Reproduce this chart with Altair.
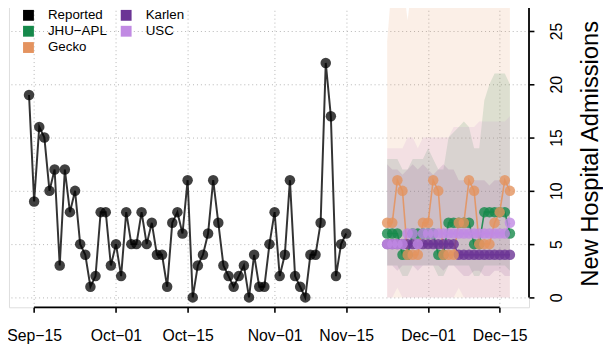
import altair as alt
import pandas as pd

FONT = "Liberation Sans"

# ---------------- data ----------------
reported_start = "2020-09-14"
reported = [19, 9, 16, 15, 10, 12, 3, 12, 8, 10, 5, 4, 1, 2, 8, 8, 3,
            5, 2, 8, 5, 5, 8, 5, 7, 4, 4, 1, 7, 8, 6, 11, 0, 3, 4, 6, 11, 7, 3, 2, 1, 2, 3, 0, 4, 1, 1, 5,
            8, 2, 4, 11, 2, 1, 0, 4, 4, 7, 22, 17, 2, 5, 6]

forecast_start = "2020-11-23"
models = ["JHU−APL", "Karlen", "USC", "Gecko"]  # drawing order
jhu_point = [6, 6, 6, 4, 4, 6, 6, 6, 6, 6, 4, 4, 7, 7, 7, 7, 7, 5, 5, 8, 8, 8, 8, 8, 6]
jhu_lower = [3, 3, 3, 2, 2, 3, 3, 3, 3, 3, 2, 2, 3, 3, 3, 3, 3, 2, 2, 3, 3, 3, 3, 3, 2.5]
jhu_upper = [13, 13, 13, 12, 12, 13, 13, 13, 14, 13, 12, 12, 15, 15.5, 16, 16.5, 16, 14, 14, 18.5, 20, 21, 21, 21, 20]
gecko_point = [7, 7, 11, 10, 4, 4, 4, 7, 7, 11, 10, 4, 4, 4, 7, 7, 11, 10, 5, 5, 5, 7, 8, 11, 10]
gecko_lower = [0] * 25
gecko_upper = [24, 30, 30, 30, 26, 30, 30, 30, 30, 30, 30, 30, 30, 30, 30, 30, 30, 30, 30, 30, 30, 30, 30, 30, 30]
karlen_point = [5] * 14 + [4] * 11
karlen_lower = [3, 3, 2.5, 3, 3, 3, 2.5, 3, 3, 3, 3, 2.5, 3, 3, 2.5, 2, 2, 2.5, 2.5, 2, 2, 2.5, 2.5, 2, 2]
karlen_upper = [12.5, 12, 12, 11.5, 12, 12.5, 12, 12.5, 12, 11.5, 12, 12.5, 12, 12, 11, 11, 10.5, 11, 11, 11, 10.5, 11, 11, 11, 11]
usc_point = [5, 5, 5, 5, 6, 6, 5] + [6] * 17 + [7]
usc_lower = [0, 0, 0.9, 0, 0, 0, 0, 0, 0, 0, 0, 0, 0, 0, 0.9, 0, 0, 0, 0, 0, 0, 0, 0, 0, 0]
usc_upper = [14, 14, 14, 14, 15, 15, 14, 15, 15, 15, 15, 15, 15, 16, 16, 16, 16, 16, 16.5, 16.5, 16.5, 16.5, 16.5, 16.5, 17]

legend_order = ["Reported", "JHU−APL", "Gecko", "Karlen", "USC"]
legend_colors = ["#000000", "#16894b", "#e4935f", "#6b3595", "#c18ae3"]

x_ticks = ["2020-09-15", "2020-10-01", "2020-10-15", "2020-11-01", "2020-11-15", "2020-12-01", "2020-12-15"]
y_ticks = [0, 5, 10, 15, 20, 25]
x_domain = ["2020-09-10T02:00:00Z", "2020-12-20T17:30:00Z"]
y_domain = [-0.926, 27.685]

# ---------------- frames ----------------
rep_df = pd.DataFrame({
    "date": pd.date_range(reported_start, periods=len(reported)).strftime("%Y-%m-%d"),
    "value": reported,
    "model": "Reported",
})

fc_dates = pd.date_range(forecast_start, periods=25).strftime("%Y-%m-%d")
series = {
    "JHU−APL": (jhu_point, jhu_lower, jhu_upper),
    "Karlen": (karlen_point, karlen_lower, karlen_upper),
    "USC": (usc_point, usc_lower, usc_upper),
    "Gecko": (gecko_point, gecko_lower, gecko_upper),
}
rows = []
for i, m in enumerate(models):
    p, lo, hi = series[m]
    for d, a, b, c in zip(fc_dates, p, lo, hi):
        rows.append({"date": d, "value": a, "lower": b, "upper": c, "model": m, "order": i})
fc_df = pd.DataFrame(rows)


def dt(s):
    t = pd.Timestamp(s)
    return alt.DateTime(year=t.year, month=t.month, date=t.day, hours=t.hour, minutes=t.minute, utc=True)


x_scale = alt.Scale(type="utc", domain=[dt(x_domain[0]), dt(x_domain[1])])
y_scale = alt.Scale(domain=y_domain, nice=False, zero=False)
color_scale = alt.Scale(domain=legend_order, range=legend_colors)

x_axis = alt.Axis(values=[dt(v) for v in x_ticks],
                  labelExpr="utcFormat(datum.value, '%b−%d')",
                  grid=True, gridDash=[1, 3], gridColor="#b5b5b5", gridWidth=1,
                  domain=False, tickSize=5, tickWidth=1.6, tickColor="black",
                  labelFontSize=16, labelFont=FONT, labelColor="black", labelPadding=16,
                  labelFlush=False, labelOverlap=False, title=None)
y_axis = alt.Axis(values=y_ticks, orient="right",
                  grid=True, gridDash=[1, 3], gridColor="#b5b5b5", gridWidth=1,
                  domain=False, tickSize=5, tickWidth=1.6, tickColor="black",
                  labelAngle=270, labelAlign="center", labelBaseline="top",
                  labelFontSize=16, labelFont=FONT, labelColor="black", labelPadding=15,
                  title="New Hospital Admissions", titleFontSize=24, titleFont=FONT,
                  titleFontWeight="normal", titleColor="black", titleAngle=270,
                  titleAlign="center", titleBaseline="middle", titleX=62, titleY=153)


def X(field="date"):
    return alt.X(f"{field}:T", scale=x_scale, axis=x_axis)


def Y(field="value"):
    return alt.Y(f"{field}:Q", scale=y_scale, axis=y_axis, stack=None)


legend = alt.Legend(orient="none", legendX=13, legendY=6, columns=2, title=None,
                    symbolType="square", symbolSize=121, symbolOpacity=1, symbolStrokeWidth=0,
                    labelFontSize=13.5, labelFont=FONT, labelColor="black", labelOffset=13,
                    rowPadding=1.5, columnPadding=12, padding=0)

bands = alt.Chart(fc_df).mark_area(opacity=0.15, clip=True, interpolate="linear").encode(
    x=X(), y=Y("lower"), y2="upper:Q",
    color=alt.Color("model:N", scale=color_scale, legend=None),
    detail="model:N",
)
fc_lines = alt.Chart(fc_df).mark_line(strokeWidth=1.6, opacity=0.9).encode(
    x=X(), y=Y(), color=alt.Color("model:N", scale=color_scale, legend=None),
)
fc_points = alt.Chart(fc_df).mark_circle(size=113, opacity=0.8).encode(
    x=X(), y=Y(), color=alt.Color("model:N", scale=color_scale, legend=legend),
    order=alt.Order("order:Q"),
)
rep_line = alt.Chart(rep_df).mark_line(strokeWidth=2, opacity=0.8).encode(
    x=X(), y=Y(), color=alt.Color("model:N", scale=color_scale, legend=None),
)
rep_points = alt.Chart(rep_df).mark_circle(size=113, opacity=0.75).encode(
    x=X(), y=Y(), color=alt.Color("model:N", scale=color_scale, legend=None),
)

xline_df = pd.DataFrame({"x0": [x_ticks[0] + "T00:00:00Z"], "x1": [x_ticks[-1] + "T00:00:00Z"], "y": [y_domain[0]]})
x_line = alt.Chart(xline_df).mark_rule(color="black", strokeWidth=1.8).encode(
    x=X("x0"), x2="x1:T", y=Y("y"))
yline_df = pd.DataFrame({"x": [x_domain[1]], "y0": [y_ticks[0]], "y1": [y_domain[1]]})
y_line = alt.Chart(yline_df).mark_rule(color="black", strokeWidth=1.8).encode(
    x=X("x"), y=Y("y0"), y2="y1:Q")

chart = alt.layer(bands, fc_lines, fc_points, rep_line, rep_points, x_line, y_line).resolve_legend(
    color="independent"
).properties(
    width=527, height=309,
    autosize=alt.AutoSizeParams(type="none"),
    padding={"left": 1, "top": -8, "right": 75, "bottom": 42},
).configure_view(strokeWidth=0).configure(font=FONT)

chart.save("out.html", embed_options={"renderer": "svg", "actions": False})
